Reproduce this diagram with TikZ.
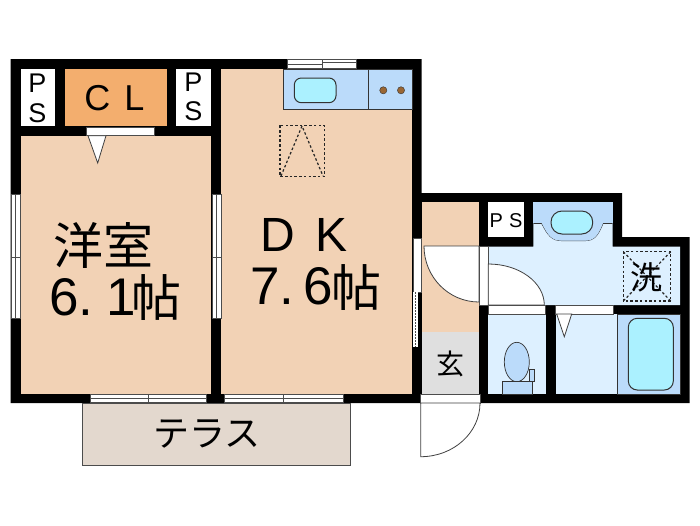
\documentclass[tikz,border=0pt]{standalone}
\usepackage{fontspec}
\setmainfont{Noto Sans CJK JP}
\newfontfamily\latinfont{Liberation Sans}
\definecolor{peachroom}{HTML}{F2D2B5}
\definecolor{paleblue}{HTML}{DDF0FF}
\definecolor{midblue}{HTML}{BBDBFA}
\definecolor{aquablue}{HTML}{ABF1FF}
\definecolor{clorange}{HTML}{F3AE6E}
\definecolor{hallgray}{HTML}{DFDFDF}
\definecolor{terrace}{HTML}{E3D8CE}
\tikzset{pane/.style={draw=black!70,fill=white,line width=.7pt},
 peach/.style={fill=peachroom,draw=none},
 pale/.style={fill=paleblue,draw=none},
 mid/.style={fill=midblue,draw=black!80,line width=.7pt},
 basin/.style={fill=aquablue,draw=black!80,line width=1pt,rounded corners=7pt},
 swing/.style={draw=black!75,fill=white,line width=.8pt},
 marker/.style={draw=black!85,line width=1.2pt,dash pattern=on 2.5pt off 2.2pt},
 lbl/.style={inner sep=0pt,text=black},
}

\begin{document}
\begin{tikzpicture}[x=1pt,y=-1pt]
        \useasboundingbox (0,0) rectangle (700,525);
        % walls
        \fill (10.5,59) -- (421.7,59) -- (421.7,193) -- (622,193) -- (622,237) -- (689.5,237) -- (689.5,403) -- (10.5,403) -- cycle;
        % rooms
        \fill[peach] (20.5,135.7) rectangle (211,393.5);
        \fill[peach] (221,69) rectangle (412,393.5);
        \fill[peach] (421.7,202) rectangle (479,332);
        \fill[hallgray] (421.7,332) rectangle (479,394);
        \fill[clorange] (65,69) rectangle (166.7,126);
        \fill[white] (20.5,69) rectangle (55,126);
        \fill[white] (176,69) rectangle (211,126);
        \fill[white] (488.3,202) rectangle (524,237.3);
        \fill[pale] (533.3,202) -- (612.7,202) -- (612.7,246.7) -- (680,246.7) -- (680,305) -- (488.3,305) -- (488.3,246.7) -- (533.3,246.7) -- cycle;
        \fill[pale] (488.3,314) rectangle (545.7,394);
        \fill[pale] (555.7,314) rectangle (617.3,394);
        % windows
        \foreach \x in {11, 212} {
            \draw[pane] (\x,194) rectangle (\x+9,318);
            \draw[pane] (\x+4.5,194) -- (\x+4.5,318);
            \draw[pane] (\x,257.7) -- (\x+9,257.7);
        }
        \draw[pane] (287,59.5) rectangle (356.7,68.5);
        \draw[pane] (287,64) -- (322,64) (322,59.5) -- (322,68.5) (322,62) -- (356.7,62);
        \foreach \a/\b in {90/206, 224/343.3} {
            \draw[pane] (\a,394) rectangle (\b,402.7);
            \draw[pane] (\a,398.4) -- (\b,398.4);
            \draw[pane] ({(\a+\b)/2},394) -- ({(\a+\b)/2},402.7);
        }
        \draw[pane] (413,238) rectangle (421,292);
        \fill[white] (413,292) rectangle (418,346.5);
        \draw[black!70,line width=1pt,dash pattern=on 1.5pt off 1.5pt] (415.5,292) -- (415.5,346.5);
        % doors
        \draw[pane] (86.7,127) rectangle (154,135.5);
        \draw[swing] (88,135.7) -- (106,135.7) -- (97.7,163) -- cycle;
        \draw[swing] (424,246) .. controls (424,277) and (448.6,302) .. (479,302) -- (479,246) -- cycle;
        \draw[pane] (479.5,246) rectangle (488,305);
        \draw[swing] (488.3,264) .. controls (519.3,264) and (544.3,282.4) .. (544.3,305) -- (488.3,305) -- cycle;
        \draw[pane] (488,305.5) rectangle (545.5,314);
        \draw[pane] (555.7,305.5) rectangle (613,314);
        \draw[swing] (556.7,314) -- (571.7,314) -- (564.3,336.7) -- cycle;
        \draw[pane] (420.7,394) rectangle (480,403);
        \draw[swing] (420.7,403) -- (480,403) .. controls (480,432.7) and (453.5,456.7) .. (420.7,456.7) -- cycle;
        % kitchen
        \draw[mid] (283,69) rectangle (412,109);
        \draw[mid] (368,69) -- (368,109);
        \draw[basin] (294.3,78) rectangle (336,102.7);
        \foreach \x in {383.3, 401} {
            \draw[fill=brown!80!black,draw=black!80] (\x,90.3) circle (3.6);
        }
        \draw[marker] (280,125.3) rectangle (324.3,176.7);
        \draw[marker] (281,176) -- (302,126) -- (323,176);
        % wash basin
        \fill[midblue] (533.3,202) rectangle (612.7,223.5);
        \draw[mid] (533.3,223.5) -- (541.7,223.5) .. controls (548,236) and (552,240.7) .. (562,240.7) -- (585,240.7) .. controls (594,240.7) and (598,236) .. (603,223.5) -- (612.7,223.5);
        \fill[midblue] (541.7,223) -- (603,223) .. controls (598,236) and (594,240.7) .. (585,240.7) -- (562,240.7) .. controls (552,240.7) and (548,236) .. (541.7,223) -- cycle;
        \draw[basin,rounded corners=11pt] (551,211) rectangle (592.7,234);
        \draw[marker] (623.3,251.7) rectangle (670.7,301);
        \draw[marker] (623.3,251.7) -- (670.7,301) (670.7,251.7) -- (623.3,301);
        % toilet and bath
        \draw[mid] (516.8,362) ellipse (12.5 and 19.7);
        \draw[mid] (502,381.7) rectangle (532.3,394);
        \draw[mid] (529.3,369) rectangle (534.3,381);
        \draw[mid] (617.3,314) rectangle (680,394);
        \draw[basin,rounded corners=9pt] (628.3,318.3) rectangle (673.3,390);
        % terrace
        \draw[fill=terrace,draw=black!70,line width=.8pt] (82.7,403) rectangle (350,465.7);
        % labels
        \node[lbl,font=\latinfont\fontsize{27}{27}\selectfont] (ps1a) at (37.5,83) {P};
        \node[lbl,font=\latinfont\fontsize{27}{27}\selectfont] (ps1b) at (37.5,113) {S};
        \node[lbl,font=\latinfont\fontsize{27}{27}\selectfont] (ps2a) at (193.5,82) {P};
        \node[lbl,font=\latinfont\fontsize{27}{27}\selectfont] (ps2b) at (193.5,111.5) {S};
        \node[lbl,font=\latinfont\fontsize{36}{36}\selectfont] (cl) at (114.5,98) {C\hspace{14pt}L};
        \node[lbl,font=\latinfont\fontsize{20}{20}\selectfont] (ps3) at (506,221) {P\hspace{6pt}S};
        \node[lbl,font=\fontsize{50}{50}\selectfont] (yoshitsu) at (103,245) {洋室};
        \node[lbl,anchor=west,font=\latinfont\fontsize{53}{53}\selectfont] (size1) at (49,297) {6.\hspace{13pt}1};
        \node[lbl,font=\fontsize{50}{50}\selectfont] (tatami1) at (156.5,297.5) {帖};
        \node[lbl,font=\latinfont\fontsize{48}{48}\selectfont] (dk) at (304,235) {D\hspace{20pt}K};
        \node[lbl,anchor=west,font=\latinfont\fontsize{53}{53}\selectfont] (size2) at (250,286) {7.\hspace{9pt}6};
        \node[lbl,font=\fontsize{50}{50}\selectfont] (tatami2) at (356,287.5) {帖};
        \node[lbl,font=\fontsize{32}{32}\selectfont] (wash) at (646.5,277) {洗};
        \node[lbl,font=\fontsize{28}{28}\selectfont] (genkan) at (450,364) {玄};
        \node[lbl,font=\fontsize{36}{36}\selectfont] (terr) at (207,434) {テラス};
    \end{tikzpicture}
\end{document}
